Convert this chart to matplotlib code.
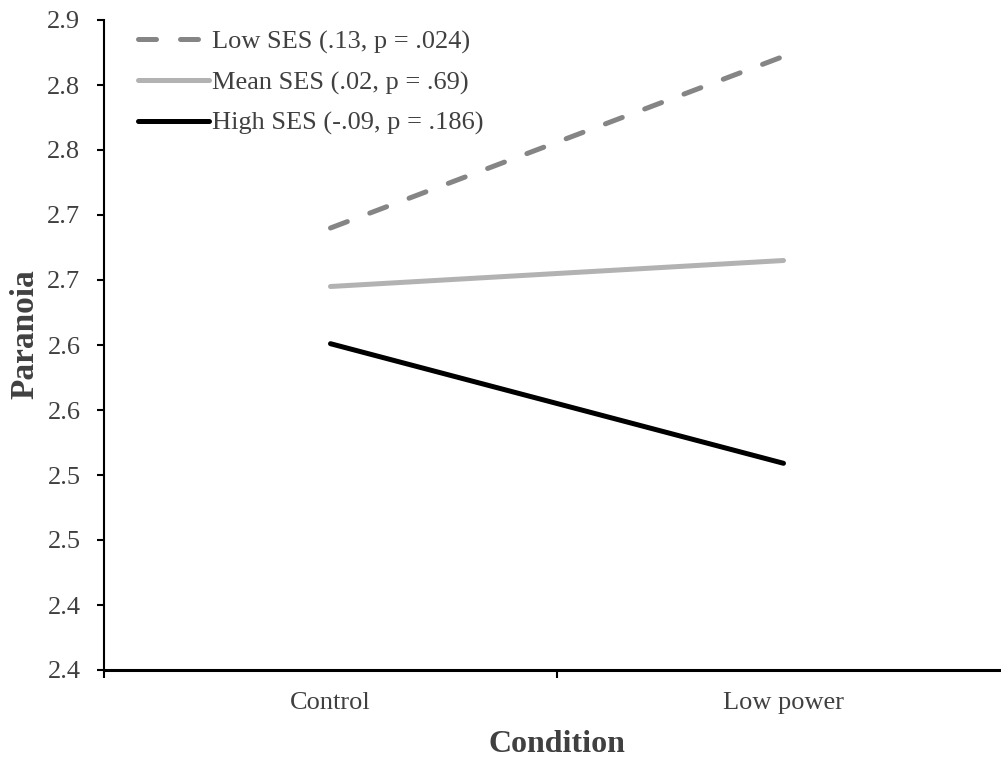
import matplotlib.pyplot as plt
from matplotlib.ticker import FixedLocator, NullFormatter, FixedFormatter

conditions = ['Control', 'Low power']
low_ses = [2.690, 2.822]
mean_ses = [2.645, 2.665]
high_ses = [2.601, 2.509]
labels = ['Low SES (.13, p = .024)', 'Mean SES (.02, p = .69)', 'High SES (-.09, p = .186)']
yticks = [2.35, 2.40, 2.45, 2.50, 2.55, 2.60, 2.65, 2.70, 2.75, 2.80, 2.85]
ytick_labels = ['2.4', '2.4', '2.5', '2.5', '2.6', '2.6', '2.7', '2.7', '2.8', '2.8', '2.9']

plt.rcParams['font.family'] = ['Liberation Serif', 'DejaVu Serif']
txt = '#404040'

fig = plt.figure(figsize=(10.01, 7.58), dpi=100)
ax = fig.add_axes([104 / 1001, 88 / 758, 906 / 1001, 650 / 758])

x = [0.5, 1.5]
ax.plot(x, low_ses, color='#858585', lw=3.6, dashes=(3.6, 4.8), dash_capstyle='round', label=labels[0])
ax.plot(x, mean_ses, color='#b2b2b2', lw=3.6, solid_capstyle='round', label=labels[1])
ax.plot(x, high_ses, color='black', lw=3.6, solid_capstyle='round', label=labels[2])

ax.set_xlim(0, 2)
ax.set_ylim(2.35, 2.85)
ax.yaxis.set_major_locator(FixedLocator(yticks))
ax.yaxis.set_major_formatter(FixedFormatter(ytick_labels))
ax.xaxis.set_major_locator(FixedLocator([0, 1, 2]))
ax.xaxis.set_major_formatter(NullFormatter())
ax.xaxis.set_minor_locator(FixedLocator(x))
ax.xaxis.set_minor_formatter(FixedFormatter(conditions))
ax.tick_params(axis='x', which='minor', length=0, pad=16, labelsize=19, labelcolor=txt)
ax.tick_params(axis='x', which='major', length=5.5, width=1.5, direction='out')
ax.tick_params(axis='y', length=5, width=1.5, direction='out', pad=12, labelsize=19, labelcolor=txt)

for s in ['top', 'right']:
    ax.spines[s].set_visible(False)
ax.spines['left'].set_linewidth(1.5)
ax.spines['bottom'].set_linewidth(2.2)

ax.set_xlabel('Condition', fontsize=23, fontweight='bold', color=txt, labelpad=11)
fig.text(25 / 1001, 1 - 334 / 758, 'Paranoia', fontsize=24, fontweight='bold', color=txt,
         rotation=90, ha='center', va='center')

ax.legend(loc='upper left', bbox_to_anchor=(138 / 1001, 1 - 30 / 758), bbox_transform=fig.transFigure,
          frameon=False, fontsize=19, handlelength=2.7, handletextpad=0.12, labelspacing=0.64,
          labelcolor=txt, borderaxespad=0, borderpad=0)

fig.savefig('out.png', dpi=100)
